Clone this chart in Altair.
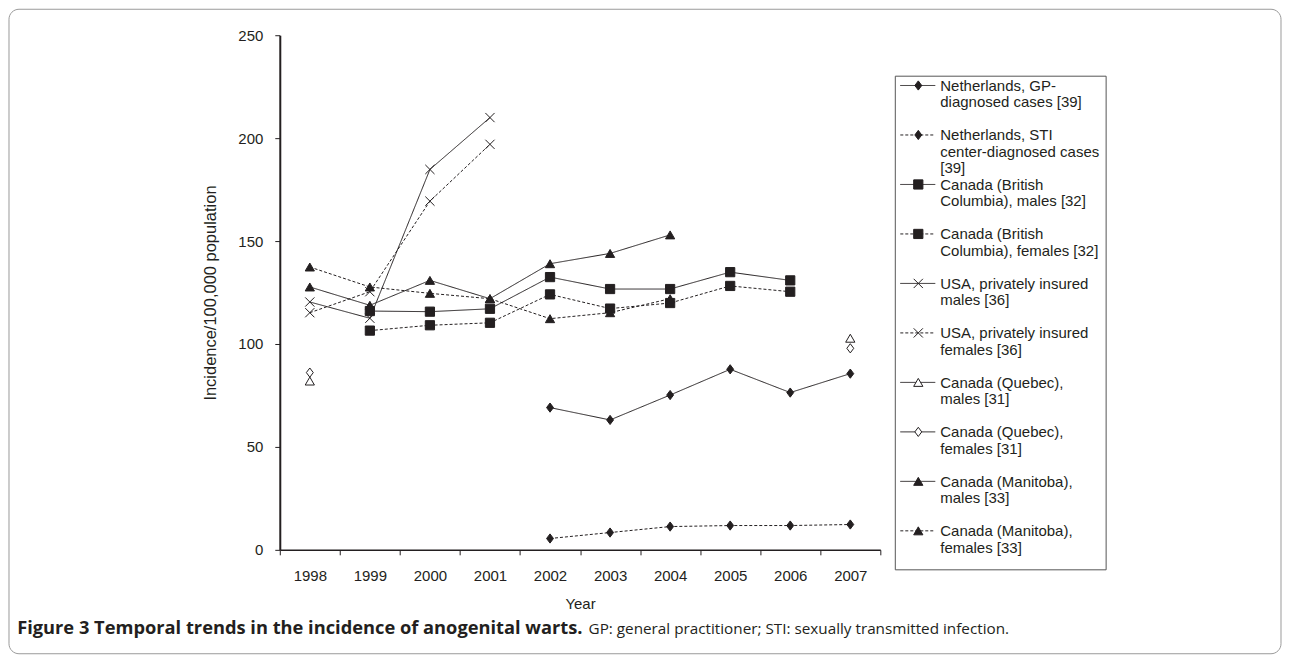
import altair as alt
import pandas as pd

# ---------------- data ----------------
years = [1998, 1999, 2000, 2001, 2002, 2003, 2004, 2005, 2006, 2007]

nl_gp = [None, None, None, None, 69.1, 63.1, 75.2, 87.7, 76.4, 85.6]
nl_sti = [None, None, None, None, 5.5, 8.4, 11.3, 11.8, 11.8, 12.3]
bc_m = [None, 116.0, 115.7, 117.1, 132.5, 126.7, 126.7, 134.9, 130.9, None]
bc_f = [None, 106.5, 109.1, 110.3, 124.1, 117.2, 119.9, 128.2, 125.4, None]
usa_m = [120.4, 112.5, 184.8, 210.0, None, None, None, None, None, None]
usa_f = [115.2, 125.4, 169.4, 197.0, None, None, None, None, None, None]
qc_m = [82.0, None, None, None, None, None, None, None, None, 102.8]
qc_f = [86.1, None, None, None, None, None, None, None, None, 97.9]
mb_m = [127.7, 118.8, 130.9, 122.0, 139.0, 144.0, 153.0, None, None, None]
mb_f = [137.4, 127.7, 124.6, 122.0, 112.3, 115.2, 122.0, None, None, None]

series_keys = ["nl_gp", "nl_sti", "bc_m", "bc_f", "usa_m", "usa_f",
               "qc_m", "qc_f", "mb_m", "mb_f"]
series_labels = [
    "Netherlands, GP-|diagnosed cases [39]",
    "Netherlands, STI|center-diagnosed cases|[39]",
    "Canada (British|Columbia), males [32]",
    "Canada (British|Columbia), females [32]",
    "USA, privately insured|males [36]",
    "USA, privately insured|females [36]",
    "Canada (Quebec),|males [31]",
    "Canada (Quebec),|females [31]",
    "Canada (Manitoba),|males [33]",
    "Canada (Manitoba),|females [33]",
]
series_values = [nl_gp, nl_sti, bc_m, bc_f, usa_m, usa_f, qc_m, qc_f, mb_m, mb_f]
no_line_series = ["qc_m", "qc_f"]

y_ticks = [0, 50, 100, 150, 200, 250]

caption_bold = "Figure 3 Temporal trends in the incidence of anogenital warts."
caption_rest = "GP: general practitioner; STI: sexually transmitted infection."

rows = []
for key, vals in zip(series_keys, series_values):
    for yr, v in zip(years, vals):
        if v is not None:
            rows.append({"series": key, "year": yr, "value": v})
df = pd.DataFrame(rows)
legend_df = pd.DataFrame({"series": series_keys, "label": series_labels})
one = pd.DataFrame({"k": [0]})

# ---------------- styles ----------------
ink = "#231f20"
X_PATH = "M-1,-1L1,1M-1,1L1,-1"
DIAMOND = "M0,-1L0.75,0L0,1L-0.75,0Z"
shape_scale = alt.Scale(domain=series_keys, range=[
    DIAMOND, DIAMOND, "square", "square", X_PATH, X_PATH,
    "triangle-up", DIAMOND, "triangle-up", "triangle-up"])
fill_scale = alt.Scale(domain=series_keys, range=[
    ink, ink, ink, ink, ink, ink, "white", "white", ink, ink])
size_scale = alt.Scale(domain=series_keys, range=[
    85, 85, 70, 70, 64, 64, 95, 95, 95, 95])
dash_scale = alt.Scale(domain=series_keys, range=[
    [1, 0], [3, 2], [1, 0], [3, 2], [1, 0], [3, 2], [1, 0], [1, 0], [1, 0], [3, 2]])
width_scale = alt.Scale(domain=series_keys, range=[
    1, 1, 1, 1, 1, 1, 2.5, 2.5, 1, 1])

FONT = "Liberation Sans"

x_enc = alt.X(
    "year:O", title="Year", bandPosition=0.5,
    scale=alt.Scale(type="band", paddingInner=0, paddingOuter=0),
    axis=alt.Axis(labelAngle=0, tickBand="extent", domainWidth=1.5, tickSize=5,
                  labelPadding=14, titlePadding=13),
)
y_enc = alt.Y(
    "value:Q", title="Incidence/100,000 population",
    scale=alt.Scale(domain=[0, 250], nice=False, zero=True),
    axis=alt.Axis(values=y_ticks, grid=False, domainWidth=2, tickSize=5,
                  labelPadding=12, titlePadding=19, titleFontSize=16.5),
)

lines = alt.Chart(df).transform_filter(
    ~alt.FieldOneOfPredicate(field="series", oneOf=no_line_series)
).mark_line(color=ink, strokeWidth=1).encode(
    x=x_enc, y=y_enc, detail="series:N",
    strokeDash=alt.StrokeDash("series:N", scale=dash_scale, legend=None),
)

points = alt.Chart(df).mark_point(filled=True, stroke=ink, strokeWidth=1, opacity=1).encode(
    x=x_enc, y=y_enc,
    shape=alt.Shape("series:N", scale=shape_scale, legend=None),
    fill=alt.Fill("series:N", scale=fill_scale, legend=None),
    size=alt.Size("series:N", scale=size_scale, legend=None),
)

main = alt.layer(lines, points)

# ---------------- legend (drawn from the series list) ----------------
leg_y = alt.Y("series:N", axis=None,
              scale=alt.Scale(type="point", domain=series_keys, range=[50.3, 496], padding=0))

leg_box = alt.Chart(one).mark_rect(fillOpacity=0, stroke="#555555", strokeWidth=1).encode(
    x=alt.value(616), x2=alt.value(827), y=alt.value(41), y2=alt.value(535))

leg_rules = alt.Chart(legend_df).mark_rule(color=ink).encode(
    x=alt.value(621), x2=alt.value(656), y=leg_y,
    strokeDash=alt.StrokeDash("series:N", scale=dash_scale, legend=None),
    strokeWidth=alt.StrokeWidth("series:N", scale=width_scale, legend=None),
)

leg_points = alt.Chart(legend_df).mark_point(filled=True, stroke=ink, strokeWidth=1, opacity=1).encode(
    x=alt.value(639), y=leg_y,
    shape=alt.Shape("series:N", scale=shape_scale, legend=None),
    fill=alt.Fill("series:N", scale=fill_scale, legend=None),
    size=alt.Size("series:N", scale=size_scale, legend=None),
)

leg_text = alt.Chart(legend_df).transform_calculate(
    lines="split(datum.label, '|')"
).mark_text(align="left", baseline="top", dy=-6.5, lineHeight=16.5,
            font=FONT, fontSize=15, color=ink).encode(
    x=alt.value(661), y=leg_y, text="lines:N")

# ---------------- frame and caption ----------------
border = alt.Chart(one).mark_rect(fillOpacity=0, stroke="#9a9a9a", strokeWidth=1, cornerRadius=10).encode(
    x=alt.value(-271), x2=alt.value(1002), y=alt.value(-26), y2=alt.value(619))

cap_bold = alt.Chart(one).mark_text(
    text=caption_bold, align="right", baseline="middle",
    font="Open Sans", fontWeight="bold", fontSize=18.3, color=ink).encode(
    x=alt.value(303), y=alt.value(594))

cap_rest = alt.Chart(one).mark_text(
    text=caption_rest, align="left", baseline="middle",
    font="Open Sans", fontSize=15.3, color=ink).encode(
    x=alt.value(309), y=alt.value(594))

chart = alt.layer(
    main, leg_box, leg_rules, leg_points, leg_text, border, cap_bold, cap_rest
).resolve_scale(y="independent").properties(
    width=601, height=515, padding=0
).configure_view(strokeWidth=0).configure_axis(
    labelFont=FONT, titleFont=FONT, labelFontSize=15, titleFontSize=15,
    titleFontWeight="normal", labelColor=ink, titleColor=ink,
    domainColor=ink, tickColor=ink,
)

chart.save("out.html", embed_options={"renderer": "svg", "actions": False})
